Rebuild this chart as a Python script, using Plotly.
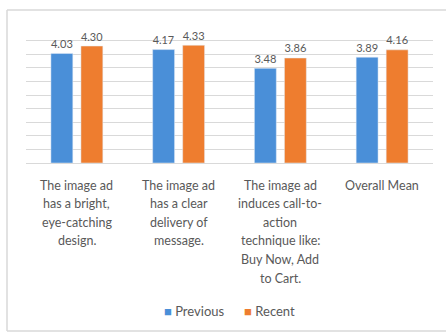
import plotly.graph_objects as go

# Survey statements (tick labels) and mean ratings per period
categories = [
    "The image ad<br>has a bright,<br>eye-catching<br>design.",
    "The image ad<br>has a clear<br>delivery of<br>message.",
    "The image ad<br>induces call-to-<br>action<br>technique like:<br>Buy Now, Add<br>to Cart.",
    "Overall Mean",
]
series_names = ["Previous", "Recent"]
previous = [4.03, 4.17, 3.48, 3.89]
recent = [4.30, 4.33, 3.86, 4.16]

BLUE = "#4A8FD8"
ORANGE = "#EE7D2F"
TEXT = "#595959"
GRID = "#D9D9D9"
FONT = "Lato, Open Sans, sans-serif"

W, H = 446, 333
ML, MR, MT, MB = 26, 13, 27, 170
pw = W - ML - MR
ph = H - MT - MB


def py(p):
    """Pixel row -> paper y coordinate."""
    return (H - MB - p) / ph


def px(p):
    """Pixel column -> paper x coordinate."""
    return (p - ML) / pw


fig = go.Figure()
for name, vals, col in [(series_names[0], previous, BLUE),
                        (series_names[1], recent, ORANGE)]:
    fig.add_trace(go.Bar(
        name=name, x=categories, y=vals, marker_color=col,
        text=[f"{v:.2f}" for v in vals], textposition="outside",
        textfont=dict(color=TEXT, size=13, family=FONT), cliponaxis=False,
        showlegend=False,
    ))

# Category labels, one annotation per line for wider line spacing
annotations = []
for cat in categories:
    for i, line in enumerate(cat.split("<br>")):
        annotations.append(dict(
            x=cat, xref="x", y=0, yref="paper", yanchor="middle",
            yshift=-22 - 18.6 * i, text=line, showarrow=False,
            font=dict(size=12.5, color=TEXT, family=FONT),
        ))

# Legend row
legend_text = (f"<span style='color:{BLUE}'>■</span> {series_names[0]}"
               f"      <span style='color:{ORANGE}'>■</span> {series_names[1]}")
annotations.append(dict(
    x=0.5, xref="paper", y=py(311), yref="paper", xanchor="center",
    yanchor="middle", text=legend_text, showarrow=False,
    font=dict(size=13, color=TEXT, family=FONT),
))

# Light gray frame around the chart area (left, top, bottom edges)
frame = dict(type="line", xref="paper", yref="paper",
             line=dict(color="#D9D9D9", width=1.5), layer="below")
shapes = [
    dict(frame, x0=px(7), x1=px(7), y0=py(331), y1=py(10)),
    dict(frame, x0=px(7), x1=px(446), y0=py(10), y1=py(10)),
    dict(frame, x0=px(7), x1=px(446), y0=py(331), y1=py(331)),
]

fig.update_layout(
    width=W, height=H,
    margin=dict(l=ML, r=MR, t=MT, b=MB),
    paper_bgcolor="white", plot_bgcolor="white",
    barmode="group", bargap=0.41, bargroupgap=0.27,
    font=dict(family=FONT, color=TEXT, size=12),
    showlegend=False,
    annotations=annotations,
    shapes=shapes,
    xaxis=dict(showline=False, ticks="", showticklabels=False),
    yaxis=dict(range=[0, 5], dtick=0.5, showgrid=True, gridcolor=GRID,
               gridwidth=1, showticklabels=False, zeroline=True,
               zerolinecolor=GRID, zerolinewidth=1, fixedrange=True),
)

fig.write_html("out.html")
